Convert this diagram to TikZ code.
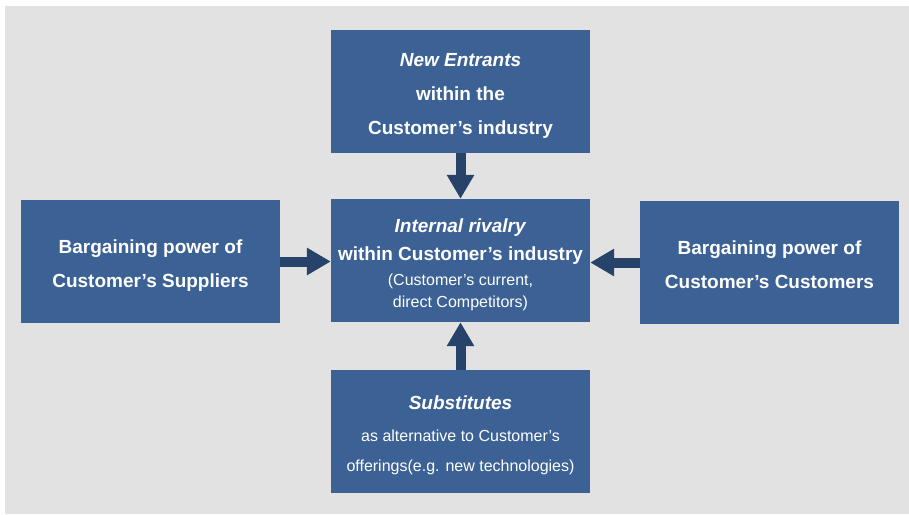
\documentclass[tikz,border=0pt]{standalone}
\usepackage{fontspec}
\setmainfont{Liberation Sans}
\usepackage{xcolor}
\usetikzlibrary{arrows.meta}
\definecolor{bg}{HTML}{E2E2E2}
\definecolor{boxblue}{HTML}{3B6195}
\definecolor{arrowblue}{HTML}{27436A}
\definecolor{text}{HTML}{FFFFFF}
\newcommand{\smalltxt}{\fontsize{16}{18}\selectfont\mdseries}
\newcommand{\padtop}{\rule{0pt}{22pt}}
\tikzset{
  force/.style={fill=boxblue, text=text, minimum width=259pt, minimum height=123pt, inner sep=0pt, align=center, font=\fontsize{19}{22}\selectfont\bfseries},
  push/.style={draw=arrowblue, line width=10pt, -{Triangle[width=26pt,length=24pt]}},
}

\begin{document}
\begin{tikzpicture}[x=1pt,y=-1pt]
  \fill[white] (0,0) rectangle (909,514);
  \fill[bg] (5,6) rectangle (909,514);

  \node[force] (entrants) at (460.5,91.5) {\padtop\textit{New Entrants}\\[12pt]within the\\[12pt]Customer's industry};
  \node[force] (rival) at (460.5,260.5) {\padtop\textit{Internal rivalry}\\[6pt]within Customer's industry\\[3pt]{\smalltxt (Customer's current,}\\[0pt]{\smalltxt direct Competitors)}};
  \node[force] (suppliers) at (150.5,261.5) {\padtop Bargaining power of\\[12pt]Customer's Suppliers};
  \node[force] (customers) at (769.5,262.5) {\padtop Bargaining power of\\[12pt]Customer's Customers\vphantom{p}};
  \node[force] (subst) at (460.5,431.5) {\padtop\textit{Substitutes}\\[10pt]{\smalltxt as alternative to Customer's}\\[8pt]{\smalltxt offerings(e.g. new technologies)}};

  \draw[push] (entrants) -- (rival);
  \draw[push] (subst) -- (rival);
  \draw[push] (suppliers) -- (suppliers -| rival.west);
  \draw[push] (customers) -- (customers -| rival.east);
\end{tikzpicture}
\end{document}
